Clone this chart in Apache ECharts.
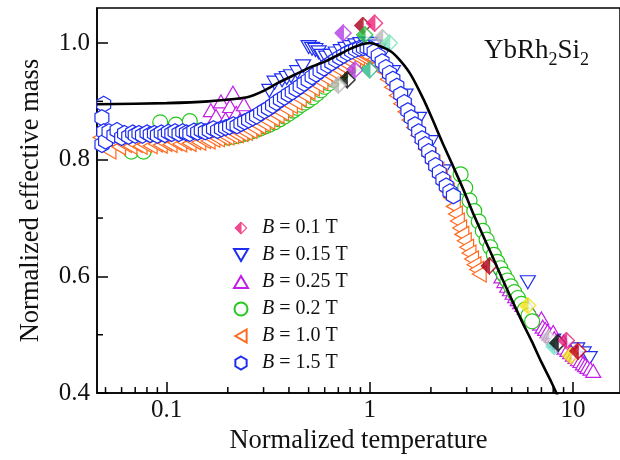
<!DOCTYPE html>
<html><head><meta charset="utf-8">
<script src="https://cdn.jsdelivr.net/npm/echarts@6/dist/echarts.min.js"></script>
<style>html,body{margin:0;padding:0;background:#fff}#c{width:620px;height:460px}</style>
</head><body><div id="c"></div><script>
// ---------------- data ----------------
const seriesNames = ['B = 0.1 T', 'B = 0.15 T', 'B = 0.25 T', 'B = 0.2 T', 'B = 1.0 T', 'B = 1.5 T'];
const xTickValues = [0.1, 1, 10];
const yTickValues = [0.4, 0.6, 0.8, 1.0];
const xMinorTicks = [0.05,0.06,0.07,0.08,0.09,0.2,0.3,0.4,0.5,0.6,0.7,0.8,0.9,2,3,4,5,6,7,8,9];
const yMinorTicks = [0.5, 0.7, 0.9];

// B = 0.1 T (half-filled diamonds, several samples)
const b01 = [[0.74,1.017],[0.925,1.03],[1.057,1.034],[0.946,1.014],[1.155,1.009],[1.25,1.0],[0.846,0.954],[1.0,0.954],[0.774,0.937],[0.7,0.928],
  [3.88,0.618],[7.6,0.494],[8.1,0.48],[8.45,0.486],[9.78,0.464],[9.3,0.49],[10.6,0.472],[6.0,0.55]];
const b01Colors = ['#b43ce6','#a80018','#f0207a','#22c040','#b8b8b8','#7de8b8','#b43ce6','#2ab888','#0a0a0a','#b8b8b8',
  '#a80018','#c8c8c8','#6ee8c8','#0a0a0a','#f2e21c','#e8207a','#c00010','#f2e21c'];

// B = 0.15 T (down triangles)
const b015 = [[0.32,0.918],[0.34,0.932],[0.37,0.936],[0.39,0.94],[0.41,0.943],[0.44,0.95],[0.47,0.96],[0.5,0.993],[0.52,0.99],[0.54,0.988],
  [0.56,0.984],[0.58,0.978],[0.61,0.975],[0.64,0.978],[0.68,0.982],[0.72,0.986],[0.76,0.99],[0.8,0.993],[0.85,0.996],[0.9,0.998],
  [0.95,0.999],[1.0,0.998],[1.05,0.994],[1.1,0.988],[1.15,0.98],
  [1.3,0.95],[1.5,0.91],[1.75,0.87],[2.0,0.83],[2.3,0.78],
  [4.4,0.6],[6.0,0.59],[6.6,0.52],[8.0,0.49],[10.5,0.475],[11.3,0.468],[12.1,0.46]];

// B = 0.25 T (up triangles)
const b025 = [[0.165,0.885],[0.175,0.875],[0.185,0.9],[0.195,0.87],[0.205,0.892],[0.212,0.915],[0.22,0.88],[0.23,0.868],[0.24,0.895],
  [4.45,0.6],[4.6,0.592],[4.75,0.584],[4.9,0.578],[5.05,0.572],[5.2,0.566],[5.35,0.561],[5.5,0.556],[5.5,0.565],[5.65,0.551],[5.8,0.546],
  [5.95,0.542],[6.0,0.55],[6.1,0.538],[6.3,0.533],[6.5,0.528],[6.7,0.523],[6.9,0.519],[7.0,0.528],[7.1,0.514],[7.3,0.51],[7.5,0.506],
  [7.7,0.502],[7.9,0.498],[8.0,0.505],[8.1,0.494],[8.35,0.49],[8.6,0.486],[8.85,0.482],[9.0,0.488],[9.1,0.478],[9.4,0.474],[9.7,0.47],
  [10.0,0.466],[10.3,0.462],[10.5,0.47],[10.6,0.458],[10.9,0.455],[11.2,0.451],[11.5,0.448],[11.8,0.445],[12.2,0.442],[12.6,0.438]];

// B = 0.2 T (circles)
const b02 = [[0.067,0.814],[0.077,0.814],[0.093,0.864],[0.111,0.86],[0.13,0.866],[0.145,0.85],[0.16,0.845],[0.175,0.842],[0.19,0.84],
  [0.2,0.838],[0.215,0.84],[0.23,0.842],[0.245,0.845],[0.26,0.848],[0.275,0.851],[0.29,0.854],[0.305,0.857],[0.32,0.86],[0.34,0.864],
  [0.36,0.869],[0.38,0.874],[0.4,0.879],[0.42,0.884],[0.44,0.889],[0.46,0.894],[0.48,0.898],[0.5,0.902],[0.525,0.907],[0.55,0.913],
  [0.575,0.919],[0.6,0.925],[0.63,0.931],[0.66,0.937],[0.69,0.943],[0.72,0.948],[0.75,0.953],[0.78,0.957],[0.82,0.962],[0.86,0.966],
  [2.8,0.775],[2.95,0.752],[3.1,0.73],[3.27,0.712],[3.44,0.694],[3.6,0.678],[3.76,0.663],[3.92,0.65],[4.08,0.637],
  [4.24,0.625],[4.4,0.614],[4.58,0.603],[4.76,0.593],[4.95,0.583],[5.15,0.573],[5.36,0.563],[5.58,0.553],[5.8,0.543],[6.05,0.533],[6.3,0.523]];

// B = 1.0 T (left triangles)
const b10 = [[0.047,0.838],[0.049,0.826],[0.052,0.815],[0.055,0.83],[0.058,0.822],[0.062,0.826],[0.066,0.823],[0.07,0.826],[0.074,0.823],
  [0.078,0.826],[0.083,0.824],[0.088,0.827],[0.093,0.825],[0.098,0.828],[0.104,0.826],[0.11,0.829],[0.116,0.827],[0.122,0.83],[0.129,0.828],
  [0.136,0.831],[0.144,0.83],[0.152,0.833],[0.16,0.832],[0.169,0.835],[0.178,0.836],[0.188,0.838],[0.198,0.839],[0.209,0.841],[0.22,0.843],
  [0.232,0.845],[0.244,0.847],[0.257,0.85],[0.27,0.854],[0.284,0.858],[0.299,0.862],[0.315,0.866],[0.332,0.871],[0.35,0.876],[0.368,0.881],
  [0.387,0.887],[0.407,0.893],[0.428,0.899],[0.45,0.905],[0.473,0.911],[0.497,0.917],[0.522,0.923],[0.548,0.929],[0.575,0.934],[0.603,0.94],
  [0.632,0.945],[0.663,0.95],[0.695,0.955],[0.728,0.96],[0.762,0.964],[0.797,0.968],[0.833,0.972],[0.87,0.975],[0.908,0.977],[0.947,0.978],
  [0.987,0.977],[1.05,0.972],[1.1,0.963],[1.16,0.952],[1.22,0.938],[1.28,0.924],[1.35,0.91],[1.42,0.896],[1.49,0.882],[1.56,0.868],
  [1.64,0.855],[1.72,0.842],[1.8,0.83],[1.88,0.818],[1.96,0.806],[2.05,0.794],[2.14,0.782],[2.23,0.77],[2.32,0.758],[2.41,0.746],
  [2.5,0.735],[2.58,0.72],[2.64,0.707],[2.7,0.695],[2.77,0.683],[2.84,0.672],[2.92,0.661],[3.0,0.65],[3.08,0.64],[3.17,0.63],
  [3.26,0.62],[3.36,0.612],[3.46,0.604]];

// B = 1.5 T (hexagons)
const b15 = [[0.049,0.895],[0.048,0.872],[0.049,0.848],[0.048,0.826],[0.05,0.832],[0.052,0.848],[0.055,0.842],[0.057,0.85],[0.06,0.838],
  [0.062,0.845],[0.065,0.84],[0.068,0.846],[0.07,0.842],[0.073,0.845],[0.076,0.842],[0.08,0.846],[0.083,0.843],[0.087,0.845],[0.09,0.842],
  [0.094,0.846],[0.098,0.843],[0.102,0.847],[0.106,0.845],[0.11,0.848],[0.115,0.845],[0.12,0.848],[0.125,0.846],[0.13,0.845],[0.136,0.849],
  [0.142,0.847],[0.148,0.85],[0.155,0.848],[0.162,0.85],[0.17,0.853],[0.178,0.85],[0.186,0.853],[0.195,0.855],[0.204,0.857],[0.213,0.86],
  [0.222,0.858],[0.232,0.862],[0.242,0.865],[0.253,0.868],[0.265,0.872],[0.277,0.875],[0.29,0.88],[0.303,0.884],[0.317,0.888],[0.332,0.893],
  [0.347,0.898],[0.363,0.903],[0.38,0.907],[0.397,0.912],[0.415,0.916],[0.434,0.921],[0.454,0.926],[0.475,0.931],[0.497,0.936],[0.52,0.942],
  [0.544,0.947],[0.569,0.952],[0.595,0.957],[0.622,0.962],[0.65,0.966],[0.68,0.971],[0.711,0.975],[0.744,0.979],[0.778,0.983],[0.814,0.986],
  [0.851,0.989],[0.89,0.991],[0.93,0.992],[0.97,0.992],[1.01,0.99],[1.05,0.985],[1.1,0.978],[1.15,0.968],[1.2,0.958],[1.25,0.948],
  [1.3,0.938],[1.36,0.926],[1.42,0.912],[1.48,0.898],[1.54,0.884],[1.6,0.872],[1.67,0.86],[1.74,0.848],[1.81,0.836],[1.88,0.826],
  [1.95,0.814],[2.03,0.802],[2.11,0.79],[2.2,0.778],[2.29,0.766],[2.38,0.755],[2.48,0.745],[2.58,0.738]];

// theory curve
const curve = [[0.0454,0.895],[0.1,0.897],[0.16,0.9],[0.249,0.907],[0.3,0.918],[0.355,0.932],[0.43,0.946],[0.514,0.959],[0.6,0.968],
  [0.677,0.977],[0.8,0.99],[0.9,0.997],[1.0,1.0],[1.118,0.995],[1.277,0.985],[1.427,0.968],[1.596,0.945],[1.842,0.903],[2.06,0.865],
  [2.3,0.826],[2.57,0.789],[2.88,0.75],[3.21,0.71],[3.6,0.671],[4.02,0.634],[4.49,0.596],[5.02,0.559],[5.61,0.523],[6.27,0.489],
  [7.0,0.453],[7.83,0.419],[8.75,0.382]];

// ---------------- style ----------------
const FONT = '"Liberation Serif", "Times New Roman", serif';
const BLUE = '#1e2ef0', VIOLET = '#c21ee6', GREEN = '#26c81e', ORANGE = '#ff6a1e', PINK = '#ee1c74';
const X_MIN = 0.0454, X_MAX = 17.06, Y_MIN = 0.4, Y_MAX = 1.06;
const HEX = 'path://M0,-10L8.66,-5L8.66,5L0,10L-8.66,5L-8.66,-5Z';
const TRI_DOWN = 'path://M-10,-8.66L10,-8.66L0,8.66Z';
const TRI_UP = 'path://M-10,8.66L10,8.66L0,-8.66Z';
const TRI_LEFT = 'path://M-8.66,0L8.66,-10L8.66,10Z';
function diamondSymbol(c) {
  const svg = '<svg xmlns="http://www.w3.org/2000/svg" width="24" height="24" viewBox="0 0 24 24">' +
    '<path d="M12 1.5L22.5 12L12 22.5L1.5 12Z" fill="#fff" stroke="' + c + '" stroke-width="2"/>' +
    '<path d="M12 1.5L1.5 12L12 22.5Z" fill="' + c + '" stroke="' + c + '" stroke-width="2"/></svg>';
  return 'image://data:image/svg+xml;charset=utf-8,' + encodeURIComponent(svg);
}
function openScatter(name, data, symbol, color, size) {
  return { name, type: 'scatter', data, symbol, symbolSize: size, symbolKeepAspect: true,
    itemStyle: { color: '#fff', borderColor: color, borderWidth: 1.2, opacity: 1 },
    emphasis: { disabled: true }, z: 2 };
}

const chart = echarts.init(document.getElementById('c'), null, { renderer: 'canvas' });
const option = {
  animation: false,
  backgroundColor: '#fff',
  title: {
    text: '{a|YbRh}{b|2}{a|Si}{b|2}', left: 479, top: 32,
    textStyle: { fontWeight: 'normal', rich: {
      a: { fontFamily: FONT, fontSize: 27, fontWeight: 'normal', color: '#111', lineHeight: 30, verticalAlign: 'top' },
      b: { fontFamily: FONT, fontSize: 18, fontWeight: 'normal', color: '#111', lineHeight: 18, verticalAlign: 'top', padding: [14, 0, 0, 0] }
    } }
  },
  grid: { left: 97, right: -10, top: 8, bottom: 65, show: true, borderColor: '#000', borderWidth: 1.5, containLabel: false },
  legend: {
    orient: 'vertical', left: 228, top: 213, itemWidth: 14, itemHeight: 13, itemGap: 7,
    selectedMode: false,
    data: [
      { name: seriesNames[0], icon: diamondSymbol(PINK) },
      { name: seriesNames[1] }, { name: seriesNames[2] }, { name: seriesNames[3] },
      { name: seriesNames[4] }, { name: seriesNames[5] }
    ],
    formatter: n => n.replace('B', '{i|B}'),
    textStyle: { fontFamily: FONT, fontSize: 20, color: '#111', lineHeight: 20, padding: [0, 0, 0, 9],
      rich: { i: { fontFamily: FONT, fontSize: 20, fontStyle: 'italic', color: '#111' } } }
  },
  xAxis: {
    type: 'log', logBase: 10, min: X_MIN, max: X_MAX,
    name: 'Normalized temperature', nameLocation: 'middle', nameGap: 33,
    nameTextStyle: { fontFamily: FONT, fontSize: 26.5, color: '#111' },
    axisLine: { show: true, lineStyle: { color: '#000', width: 1.5 } },
    axisTick: { show: true, inside: true, length: 11, lineStyle: { color: '#000', width: 1.5 } },
    axisLabel: { fontFamily: FONT, fontSize: 25, color: '#111', margin: 5, showMinLabel: false, showMaxLabel: false,
      formatter: v => { const t = xTickValues.find(u => Math.abs(u - v) / u < 1e-6); return t === undefined ? '' : String(t); } },
    splitLine: { show: false }, minorTick: { show: false }
  },
  yAxis: {
    type: 'value', min: Y_MIN, max: Y_MAX, interval: 0.2,
    name: 'Normalized effective mass', nameLocation: 'middle', nameGap: 52,
    nameTextStyle: { fontFamily: FONT, fontSize: 26.5, color: '#111' },
    axisLine: { show: true, lineStyle: { color: '#000', width: 1.5 } },
    axisTick: { show: true, inside: true, length: 11, lineStyle: { color: '#000', width: 1.5 } },
    axisLabel: { fontFamily: FONT, fontSize: 25, color: '#111', margin: 7, showMaxLabel: false,
      formatter: v => { const t = yTickValues.find(u => Math.abs(u - v) < 1e-6); return t === undefined ? '' : t.toFixed(1); } },
    splitLine: { show: false }
  },
  series: [
    openScatter(seriesNames[1], b015, TRI_DOWN, BLUE, 15),
    openScatter(seriesNames[2], b025, TRI_UP, VIOLET, 15),
    openScatter(seriesNames[3], b02, 'circle', GREEN, 15),
    openScatter(seriesNames[4], b10, TRI_LEFT, ORANGE, 16),
    openScatter(seriesNames[5], b15, HEX, BLUE, 16),
    { name: seriesNames[0], type: 'scatter', symbol: diamondSymbol(PINK), symbolSize: 18, z: 3,
      itemStyle: { color: PINK }, emphasis: { disabled: true },
      data: b01.map((p, i) => ({ value: p, symbol: diamondSymbol(b01Colors[i]) })) },
    { name: 'curve', type: 'line', data: curve, showSymbol: false, symbol: 'none', smooth: 0.25, clip: true,
      lineStyle: { color: '#000', width: 2.6 }, z: 5, silent: true },
    { name: 'xminor', type: 'custom', silent: true, z: 6, clip: false,
      data: xMinorTicks.map(v => [v, Y_MIN]),
      renderItem: (params, api) => {
        const p = api.coord([api.value(0), api.value(1)]);
        const cs = params.coordSys; const yb = cs.y + cs.height;
        return { type: 'line', shape: { x1: p[0], y1: yb, x2: p[0], y2: yb - 6 }, style: { stroke: '#000', lineWidth: 1.5 } };
      } },
    { name: 'yminor', type: 'custom', silent: true, z: 6, clip: false,
      data: yMinorTicks.map(v => [X_MIN, v]),
      renderItem: (params, api) => {
        const p = api.coord([api.value(0), api.value(1)]);
        const cs = params.coordSys;
        return { type: 'line', shape: { x1: cs.x, y1: p[1], x2: cs.x + 6, y2: p[1] }, style: { stroke: '#000', lineWidth: 1.5 } };
      } }
  ]
};
chart.setOption(option);
</script></body></html>
